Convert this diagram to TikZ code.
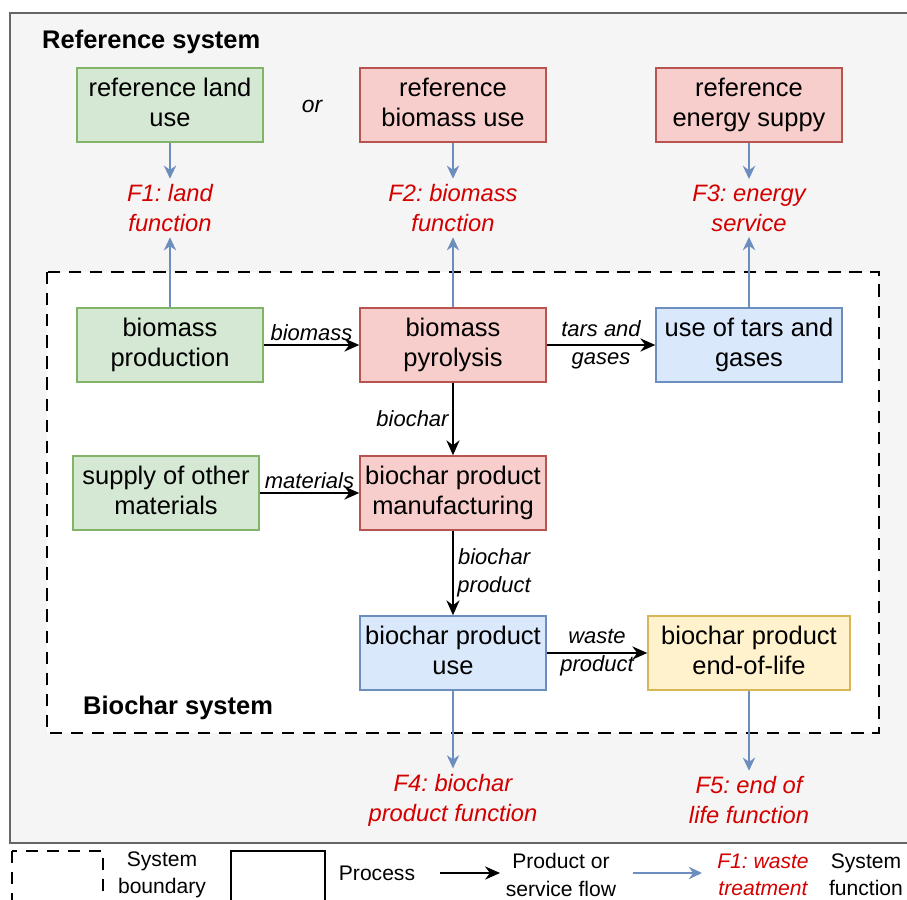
\documentclass[tikz,border=0pt]{standalone}
\usepackage{fontspec}
\setmainfont{Liberation Sans}
\usetikzlibrary{arrows.meta}
\frenchspacing

\definecolor{grfill}{HTML}{D5E8D4}
\definecolor{grline}{HTML}{82B366}
\definecolor{rdfill}{HTML}{F8CECC}
\definecolor{rdline}{HTML}{B85450}
\definecolor{blfill}{HTML}{DAE8FC}
\definecolor{blline}{HTML}{6C8EBF}
\definecolor{ylfill}{HTML}{FFF2CC}
\definecolor{ylline}{HTML}{D6B656}
\definecolor{fnred}{HTML}{D40000}
\definecolor{bggray}{HTML}{F5F5F5}
\definecolor{bdgray}{HTML}{666666}

\newcommand\boxstrut{\rule[-3.4pt]{0pt}{14.2pt}}

\begin{document}
\begin{tikzpicture}[x=0.2mm, y=-0.2mm,
	box/.style={draw, line width=0.8pt, minimum width=3.72cm, minimum height=1.48cm,
		align=center, inner sep=1pt, font=\fontsize{14.5}{17}\selectfont,
		execute at begin node=\boxstrut, execute at end node=\boxstrut},
	grbox/.style={box, fill=grfill, draw=grline},
	rdbox/.style={box, fill=rdfill, draw=rdline},
	blbox/.style={box, fill=blfill, draw=blline},
	ylbox/.style={box, fill=ylfill, draw=ylline},
	func/.style={align=center, text=fnred, inner sep=3pt, font=\fontsize{13.5}{17}\selectfont\itshape},
	lbl/.style={align=center, inner sep=2pt, font=\fontsize{12.5}{16}\selectfont\itshape},
	leg/.style={align=center, inner sep=0pt, font=\fontsize{12}{15.5}\selectfont},
	flow/.style={line width=1.1pt, -{Stealth[length=8.5pt, width=7.5pt]}},
	fn/.style={blline, line width=1pt, -{Stealth[length=7.5pt, width=7pt]}}]
	\def\xa{170}
	\def\xb{453}
	\def\xc{749}
	
	\useasboundingbox (0,0) rectangle (907,900);
	\clip (0,0) rectangle (907,900);
	
	%Hintergrund
	\draw[bdgray, fill=bggray, line width=0.9pt] (10,13) rectangle (930,843);
	\draw[dashed, dash pattern=on 7pt off 5pt, line width=0.9pt, fill=white] (47,272) rectangle (879,733);
	\node[anchor=west, font=\fontsize{14.5}{17}\selectfont\bfseries] (refsys) at (36,42) {Reference system};
	\node[anchor=west, font=\fontsize{14.5}{17}\selectfont\bfseries] (biosys) at (77,708) {Biochar system};
	
	%Referenzsystem
	\node[grbox] (refland) at (\xa,105) {reference land\\use};
	\node[rdbox] (refbio) at (\xb,105) {reference\\biomass use};
	\node[rdbox] (refenergy) at (\xc,105) {reference\\energy suppy};
	\node[lbl, font=\fontsize{13}{16}\selectfont\itshape] (or) at (312,106) {or};
	
	\node[func] (f1) at (\xa,208) {F1: land\\function};
	\node[func] (f2) at (\xb,208) {F2: biomass\\function};
	\node[func] (f3) at (\xc,208) {F3: energy\\service};
	
	%Biokohlesystem
	\node[grbox] (prod) at (\xa,345) {biomass\\production};
	\node[rdbox] (pyro) at (\xb,345) {biomass\\pyrolysis};
	\node[blbox] (tars) at (\xc,345) {use of tars and\\gases};
	\node[grbox] (supply) at (166,493) {supply of other\\materials};
	\node[rdbox] (manuf) at (\xb,493) {biochar product\\manufacturing};
	\node[blbox] (use) at (\xb,653) {biochar product\\use};
	\node[ylbox, minimum width=4.04cm] (eol) at (\xc,653) {biochar product\\end-of-life};
	
	\node[func] (f4) at (\xb,800) {F4: biochar\\product function};
	\node[func] (f5) at (\xc,800) {F5: end of\\life function};
	
	%Produktfluesse
	\draw[flow] (prod) -- node[lbl, above] {biomass} (pyro);
	\draw[flow] (pyro) -- node[lbl] {tars and\\gases} (tars);
	\draw[flow] (pyro) -- node[lbl, left] {biochar} (manuf);
	\draw[flow] (supply) -- node[lbl, above] {materials} (manuf);
	\draw[flow] (manuf) -- node[lbl, right] {biochar\\product} (use);
	\draw[flow] (use) -- node[lbl] {waste\\product} (eol);
	
	%Systemfunktionen
	\draw[fn] (refland) -- (f1);
	\draw[fn] (refbio) -- (f2);
	\draw[fn] (refenergy) -- (f3);
	\draw[fn] (prod) -- (f1);
	\draw[fn] (pyro) -- (f2);
	\draw[fn] (tars) -- (f3);
	\draw[fn] (use) -- (f4);
	\draw[fn] (eol) -- (f5);
	
	%Legende
	\draw[dashed, dash pattern=on 7pt off 5pt, line width=0.9pt] (12,851) rectangle (103,910);
	\node[leg] (lbound) at (162,875) {System\\boundary};
	\draw[line width=0.8pt] (231,851) rectangle (325,910);
	\node[leg] (lproc) at (377,873) {Process};
	\coordinate (la1) at (440,873);
	\coordinate (la2) at (500,873);
	\draw[flow] (la1) -- (la2);
	\node[leg] (lflow) at (561,875) {Product or\\service flow};
	\coordinate (lb1) at (633,873);
	\coordinate (lb2) at (702,873);
	\draw[fn] (lb1) -- (lb2);
	\node[leg, text=fnred, font=\fontsize{12}{15.5}\selectfont\itshape] (lfn) at (763,875) {F1: waste\\treatment};
	\node[leg] (lsys) at (866,875) {System\\function};
	
\end{tikzpicture}
\end{document}
